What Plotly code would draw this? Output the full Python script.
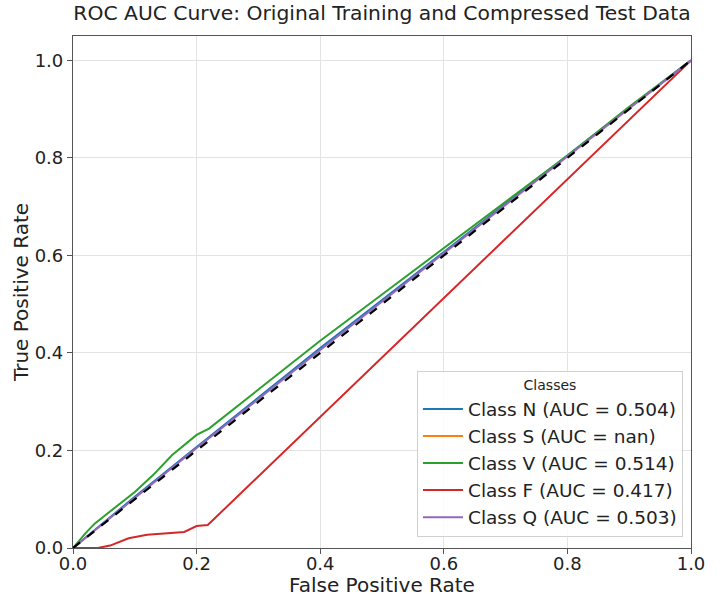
import plotly.graph_objects as go

# ---- data ----
class_names = ["Class N (AUC = 0.504)", "Class S (AUC = nan)", "Class V (AUC = 0.514)",
               "Class F (AUC = 0.417)", "Class Q (AUC = 0.503)"]
colors = ["#1f77b4", "#ff7f0e", "#2ca02c", "#d62728", "#9467bd"]

fpr_n = [0.0, 0.1, 0.2, 0.4, 0.6, 0.8, 1.0]
tpr_n = [0.0, 0.105, 0.207, 0.41, 0.607, 0.805, 1.0]

fpr_s = [None]
tpr_s = [None]

fpr_v = [0.0, 0.02, 0.035, 0.05, 0.07, 0.1, 0.13, 0.16, 0.2, 0.22, 0.3, 0.4, 0.5, 0.6, 0.7, 0.8, 0.9, 1.0]
tpr_v = [0.0, 0.03, 0.05, 0.065, 0.085, 0.115, 0.15, 0.19, 0.232, 0.245, 0.325, 0.425, 0.52, 0.615, 0.71, 0.805, 0.905, 1.0]

fpr_f = [0.0, 0.04, 0.06, 0.08, 0.09, 0.12, 0.15, 0.18, 0.2, 0.218, 1.0]
tpr_f = [0.0, 0.0, 0.005, 0.014, 0.02, 0.027, 0.03, 0.033, 0.045, 0.047, 1.0]

fpr_q = [0.0, 0.1, 0.2, 0.4, 0.6, 0.8, 1.0]
tpr_q = [0.0, 0.103, 0.205, 0.406, 0.605, 0.803, 1.0]

diag = [0.0, 1.0]

x_ticks = [0.0, 0.2, 0.4, 0.6, 0.8, 1.0]
y_ticks = [0.0, 0.2, 0.4, 0.6, 0.8, 1.0]

FONT = "DejaVu Sans"
TXT = "#222222"

fig = go.Figure()
series = [(fpr_n, tpr_n), (fpr_s, tpr_s), (fpr_v, tpr_v), (fpr_f, tpr_f), (fpr_q, tpr_q)]
for i, ((xs, ys), name, c) in enumerate(zip(series, class_names, colors)):
    fig.add_trace(go.Scatter(x=xs, y=ys, mode="lines", name=name,
                             line=dict(color=c, width=2), legendgroup=f"g{i}"))

fig.add_trace(go.Scatter(x=diag, y=diag, mode="lines", showlegend=False,
                         line=dict(color="black", width=2.2, dash="dash")))

axis_common = dict(
    showgrid=True, gridcolor="#e3e3e3", gridwidth=1,
    showline=True, linecolor="#555555", linewidth=1.2, mirror=True,
    ticks="outside", ticklen=5, tickcolor="#555555",
    tickfont=dict(family=FONT, size=18, color=TXT),
    zeroline=False, automargin=False,
)

fig.update_layout(
    width=720, height=597,
    margin=dict(l=73, r=29, t=36, b=49),
    paper_bgcolor="white", plot_bgcolor="white",
    title=dict(text="ROC AUC Curve: Original Training and Compressed Test Data",
               x=(73 + 691) / 2 / 720, xanchor="center", y=1 - 13 / 597, yanchor="middle",
               font=dict(family=FONT, size=20.3, color=TXT)),
    xaxis=dict(range=[0, 1], tickvals=x_ticks, tickformat=".1f", ticklabelstandoff=-6,
               title=dict(text="False Positive Rate", font=dict(family=FONT, size=20, color=TXT), standoff=0),
               **axis_common),
    yaxis=dict(range=[0, 1.05], tickvals=y_ticks, tickformat=".1f",
               title=dict(text="True Positive Rate", font=dict(family=FONT, size=20, color=TXT), standoff=0),
               **axis_common),
    legend=dict(
        x=0.987, xanchor="right", y=0.021, yanchor="bottom",
        bgcolor="rgba(255,255,255,0.85)", bordercolor="#d0d0d0", borderwidth=1,
        font=dict(family=FONT, size=18.5, color=TXT),
        title=dict(text="Classes", side="top center", font=dict(family=FONT, size=14, color=TXT)),
        tracegroupgap=0, itemwidth=40,
    ),
    showlegend=True,
)

fig.write_html("out.html")
